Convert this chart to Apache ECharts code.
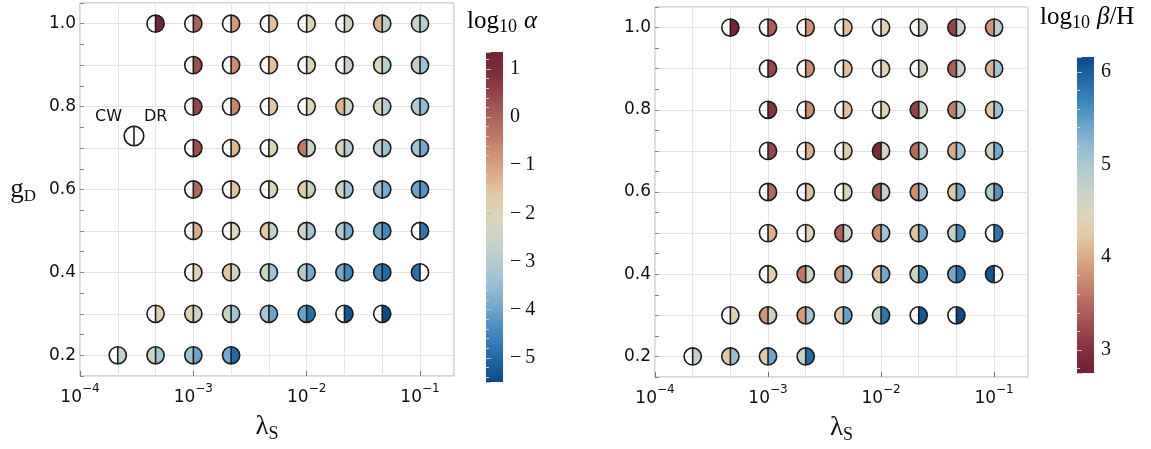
<!DOCTYPE html>
<html><head><meta charset="utf-8">
<script src="https://cdn.jsdelivr.net/npm/echarts@6/dist/echarts.min.js"></script>
<style>html,body{margin:0;padding:0;background:#fff}#c{width:1151px;height:449px}</style>
</head><body><div id="c"></div>
<script>
// ---------- data ----------
const lambdaS = [2.154e-4, 4.642e-4, 1e-3, 2.154e-3, 4.642e-3, 1e-2, 2.154e-2, 4.642e-2, 1e-1];
const gD = [1.0, 0.9, 0.8, 0.7, 0.6, 0.5, 0.4, 0.3, 0.2];
const n = null;
// log10 alpha, CW (left half) and DR (right half); rows follow gD, columns follow lambdaS
const alphaCW = [
  [n, n, n, n, n, n, n, -1.3, -2.6],
  [n, n, n, n, n, n, n, -2.1, -2.7],
  [n, n, n, n, n, n, -1.3, -2.2, -3.0],
  [n, n, n, n, n, -0.4, -2.1, -2.8, -3.3],
  [n, n, n, n, n, -1.7, -2.5, -3.3, -4.0],
  [n, n, n, n, -1.6, -2.5, -3.0, -3.9, n],
  [n, n, n, -1.6, -2.5, -3.0, -3.9, -4.5, -4.9],
  [n, n, -2.0, -2.6, -3.2, -4.0, n, n, n],
  [n, -2.5, -3.3, -3.9, n, n, n, n, n]
];
const alphaDR = [
  [n, 1.2, 0.0, -0.9, -1.5, -2.0, -2.5, -2.9, -3.0],
  [n, n, 0.3, -0.7, -1.5, -2.0, -2.5, -2.9, -3.4],
  [n, n, 0.5, -0.6, -1.6, -2.0, -2.5, -3.0, -3.6],
  [n, n, 0.3, -1.3, -2.0, -2.5, -3.0, -3.4, -3.9],
  [n, n, -0.1, -1.5, -2.0, -2.6, -3.3, -3.9, -4.3],
  [n, n, -1.2, -2.1, -2.7, -3.3, -3.9, -4.5, -4.8],
  [n, n, -1.9, -2.5, -3.3, -3.9, -4.5, -5.0, n],
  [n, -1.9, -2.5, -3.3, -4.0, -4.9, -5.3, -5.5, n],
  [-2.7, -3.3, -4.0, -5.0, n, n, n, n, n]
];
// log10 beta/H
const betaCW = [
  [n, n, n, n, n, n, n, 3.16, 3.84],
  [n, n, n, n, n, n, n, 3.40, 4.05],
  [n, n, n, n, n, n, 3.16, 3.64, 4.25],
  [n, n, n, n, n, 2.89, 3.50, 3.98, 4.66],
  [n, n, n, n, n, 3.33, 3.77, 4.25, 4.93],
  [n, n, n, n, 3.40, 3.77, 4.18, 4.69, n],
  [n, n, n, 3.60, 3.84, 4.18, 4.66, 5.38, 6.06],
  [n, n, 3.84, 3.88, 4.25, 4.69, n, n, n],
  [n, 4.25, 4.28, 4.69, n, n, n, n, n]
];
const betaDR = [
  [n, 2.80, 3.40, 3.84, 4.18, 4.39, 4.66, 4.69, 4.86],
  [n, n, 3.19, 3.77, 4.18, 4.39, 4.66, 4.73, 5.07],
  [n, n, 3.02, 3.77, 4.18, 4.39, 4.69, 4.86, 5.17],
  [n, n, 3.19, 4.05, 4.35, 4.56, 4.86, 5.10, 5.38],
  [n, n, 3.50, 4.18, 4.42, 4.73, 5.07, 5.38, 5.58],
  [n, n, 4.05, 4.42, 4.69, 5.07, 5.38, 5.65, 5.82],
  [n, n, 4.35, 4.69, 5.07, 5.38, 5.65, 5.89, n],
  [n, 4.39, 4.69, 5.07, 5.44, 5.82, 6.06, 6.15, n],
  [4.73, 5.14, 5.41, 5.89, n, n, n, n, n]
];
const gDTicks = [0.2, 0.4, 0.6, 0.8, 1.0];
const alphaTicks = [1, 0, -1, -2, -3, -4, -5];
const betaTicks = [3, 4, 5, 6];
const alphaRange = [-5.5, 1.35];
const betaRange = [2.75, 6.16];

// ---------- styling ----------
const cmapBlueRed = ['#0b4a87','#1f6aa8','#3f86bd','#69a3cb','#94bdd5','#b1cad0','#c8d3c5',
  '#dbd6ba','#e3c6a2','#daa683','#c9876d','#b4675d','#9c4b4d','#822f3d','#6f2233'];
const R = 8.6;
const EDGE = '#1c1c1c';
const SANS = 'DejaVu Sans';
const SERIF = 'Liberation Serif';

function halfData(tbl) {
  const out = [];
  tbl.forEach((row, i) => row.forEach((v, j) => { if (v !== null) out.push([lambdaS[j], gD[i], v]); }));
  return out;
}
function outlineData(a, b) {
  const out = [];
  a.forEach((row, i) => row.forEach((v, j) => { if (v !== null || b[i][j] !== null) out.push([lambdaS[j], gD[i]]); }));
  return out;
}
function halfRender(side) {
  return function (params, api) {
    const p = api.coord([api.value(0), api.value(1)]);
    const s = side === 'L' ? Math.PI / 2 : -Math.PI / 2;
    return { type: 'sector', shape: { cx: p[0], cy: p[1], r0: 0, r: R, startAngle: s, endAngle: s + Math.PI, clockwise: true },
      style: { fill: api.visual('color'), stroke: null } };
  };
}
function outlineRender(params, api) {
  const p = api.coord([api.value(0), api.value(1)]);
  return { type: 'group', children: [
    { type: 'circle', shape: { cx: p[0], cy: p[1], r: R }, style: { fill: 'none', stroke: EDGE, lineWidth: 1.6 } },
    { type: 'line', shape: { x1: p[0], y1: p[1] - R, x2: p[0], y2: p[1] + R }, style: { stroke: EDGE, lineWidth: 1.6 } }
  ] };
}
const inList = (list, v) => list.some(t => Math.abs(t - v) < 1e-6);
const fmtMinus = v => v < 0 ? '\u2212\u2009' + (-v) : String(v);

function panelAxes(g) {
  const xs = [
    { type: 'log', logBase: 10, gridIndex: g, min: 1e-4, max: Math.pow(10, -0.7),
      axisLine: { show: false }, splitLine: { show: false },
      axisTick: { show: true, inside: true, length: 5, lineStyle: { color: '#777' } },
      axisLabel: { showMaxLabel: false, margin: 7,
        formatter: v => '{b|10}{s|\u2212' + Math.round(-Math.log10(v)) + '}',
        rich: { b: { fontSize: 17, fontFamily: SANS, color: '#111', lineHeight: 23, verticalAlign: 'bottom' },
                s: { fontSize: 12, fontFamily: SANS, color: '#111', lineHeight: 12, verticalAlign: 'top' } } },
      name: '{l|\u03bb}{s|S}', nameLocation: 'middle', nameGap: 35,
      nameTextStyle: { rich: { l: { fontSize: 27, fontFamily: SERIF, color: '#111', lineHeight: 32, verticalAlign: 'middle' },
                               s: { fontSize: 18, fontFamily: SERIF, color: '#111', lineHeight: 18, verticalAlign: 'bottom' } } } },
    { type: 'value', gridIndex: g, min: -4, max: -0.7, interval: 1 / 3, position: 'top',
      axisLine: { show: false }, axisTick: { show: false }, axisLabel: { show: false },
      splitLine: { show: true, lineStyle: { color: '#e4e4e4', width: 1 } } }
  ];
  const ys = [
    { type: 'value', gridIndex: g, min: 0.15, max: 1.05, splitNumber: 9,
      axisLine: { show: false }, axisTick: { show: false },
      splitLine: { show: true, lineStyle: { color: '#e4e4e4', width: 1 } },
      axisLabel: { showMinLabel: false, showMaxLabel: false, margin: 4, fontSize: 17, fontFamily: SANS, color: '#111',
        formatter: v => inList(gDTicks, v) ? v.toFixed(1) : '' } },
    { type: 'value', gridIndex: g, min: 0.15, max: 1.05, interval: 0.05, position: 'left',
      axisLine: { show: false }, axisLabel: { show: false }, splitLine: { show: false },
      axisTick: { show: true, inside: true, length: 4, lineStyle: { color: '#888' } } }
  ];
  return { xs, ys };
}
const p0 = panelAxes(0), p1 = panelAxes(1);
p0.ys[0].name = '{g|g}{d|D}';
p0.ys[0].nameLocation = 'middle';
p0.ys[0].nameRotate = 0;
p0.ys[0].nameGap = 44;
p0.ys[0].nameTextStyle = { rich: { g: { fontSize: 27, fontFamily: SERIF, color: '#111', lineHeight: 32, verticalAlign: 'middle' },
                                   d: { fontSize: 17, fontFamily: SERIF, color: '#111', lineHeight: 17, verticalAlign: 'bottom' } } };

function cbAxes(g, range, ticks) {
  return {
    x: { type: 'value', gridIndex: g, show: false, min: 0, max: 1 },
    y: { type: 'value', gridIndex: g, min: range[0], max: range[1], splitNumber: ticks.length, position: 'right',
      axisLine: { show: false }, splitLine: { show: false },
      axisTick: { show: true, length: 5, lineStyle: { color: '#bbb' } },
      minorTick: { show: true, splitNumber: 5, length: 3, lineStyle: { color: '#ccc' } },
      axisLabel: { showMinLabel: false, showMaxLabel: false, margin: 7, fontSize: 20, fontFamily: SERIF, color: '#111',
        formatter: v => inList(ticks, v) ? fmtMinus(Math.round(v)) : '' } }
  };
}
const cb0 = cbAxes(2, alphaRange, alphaTicks), cb1 = cbAxes(3, betaRange, betaTicks);

const xAxis = [...p0.xs, ...p1.xs, cb0.x, cb1.x];
const yAxis = [...p0.ys, ...p1.ys, cb0.y, cb1.y];

const series = [
  { type: 'custom', xAxisIndex: 0, yAxisIndex: 0, renderItem: halfRender('L'), data: halfData(alphaCW), z: 3 },
  { type: 'custom', xAxisIndex: 0, yAxisIndex: 0, renderItem: halfRender('R'), data: halfData(alphaDR), z: 3 },
  { type: 'custom', xAxisIndex: 0, yAxisIndex: 0, renderItem: outlineRender, data: outlineData(alphaCW, alphaDR), z: 4 },
  { type: 'custom', xAxisIndex: 2, yAxisIndex: 2, renderItem: halfRender('L'), data: halfData(betaCW), z: 3 },
  { type: 'custom', xAxisIndex: 2, yAxisIndex: 2, renderItem: halfRender('R'), data: halfData(betaDR), z: 3 },
  { type: 'custom', xAxisIndex: 2, yAxisIndex: 2, renderItem: outlineRender, data: outlineData(betaCW, betaDR), z: 4 }
];

const titleRich = {
  a: { fontSize: 25, fontFamily: SERIF, color: '#111', lineHeight: 30, verticalAlign: 'middle' },
  b: { fontSize: 18, fontFamily: SERIF, color: '#111', lineHeight: 18, verticalAlign: 'bottom' },
  c: { fontSize: 25, fontFamily: SERIF, fontStyle: 'italic', color: '#111', lineHeight: 30, verticalAlign: 'middle' },
  sp: { fontSize: 25, lineHeight: 30, width: 7 }
};
function gradStops(colors) {
  return colors.map((c, i) => ({ offset: i / (colors.length - 1), color: c }));
}

const option = {
  animation: false,
  backgroundColor: '#fff',
  grid: [
    { left: 80, top: 3, width: 374, height: 373, show: true, borderColor: '#b0b0b0', borderWidth: 1, backgroundColor: 'transparent' },
    { left: 655, top: 7, width: 373, height: 372, show: true, borderColor: '#b0b0b0', borderWidth: 1, backgroundColor: 'transparent' },
    { left: 486, top: 52, width: 17, height: 330 },
    { left: 1077, top: 57, width: 17, height: 316 }
  ],
  xAxis, yAxis, series,
  visualMap: [
    { type: 'continuous', show: false, seriesIndex: [0, 1], dimension: 2, min: alphaRange[0], max: alphaRange[1],
      inRange: { color: cmapBlueRed } },
    { type: 'continuous', show: false, seriesIndex: [3, 4], dimension: 2, min: betaRange[0], max: betaRange[1],
      inRange: { color: cmapBlueRed.slice().reverse() } }
  ],
  graphic: [
    { type: 'rect', shape: { x: 486, y: 52, width: 17, height: 330 },
      style: { fill: new echarts.graphic.LinearGradient(0, 1, 0, 0, gradStops(cmapBlueRed)) } },
    { type: 'rect', shape: { x: 1077, y: 57, width: 17, height: 316 },
      style: { fill: new echarts.graphic.LinearGradient(0, 0, 0, 1, gradStops(cmapBlueRed)) } },
    { type: 'text', left: 467, top: 9, style: { text: '{a|log}{b|10}{sp|}{c|\u03b1}', rich: titleRich } },
    { type: 'text', left: 1040, top: 5, style: { text: '{a|log}{b|10}{sp|}{c|\u03b2}{a|/H}', rich: titleRich } },
    { type: 'circle', shape: { cx: 134, cy: 136, r: 9.8 }, style: { fill: '#fff', stroke: EDGE, lineWidth: 1.6 }, z: 10 },
    { type: 'line', shape: { x1: 134, y1: 126.2, x2: 134, y2: 145.8 }, style: { stroke: EDGE, lineWidth: 1.6 }, z: 10 },
    { type: 'text', left: 95, top: 109, style: { text: 'CW', fontSize: 16, fontFamily: SANS, fill: '#111' }, z: 10 },
    { type: 'text', left: 144, top: 109, style: { text: 'DR', fontSize: 16, fontFamily: SANS, fill: '#111' }, z: 10 }
  ]
};
const chart = echarts.init(document.getElementById('c'));
chart.setOption(option);
</script>
</body></html>
